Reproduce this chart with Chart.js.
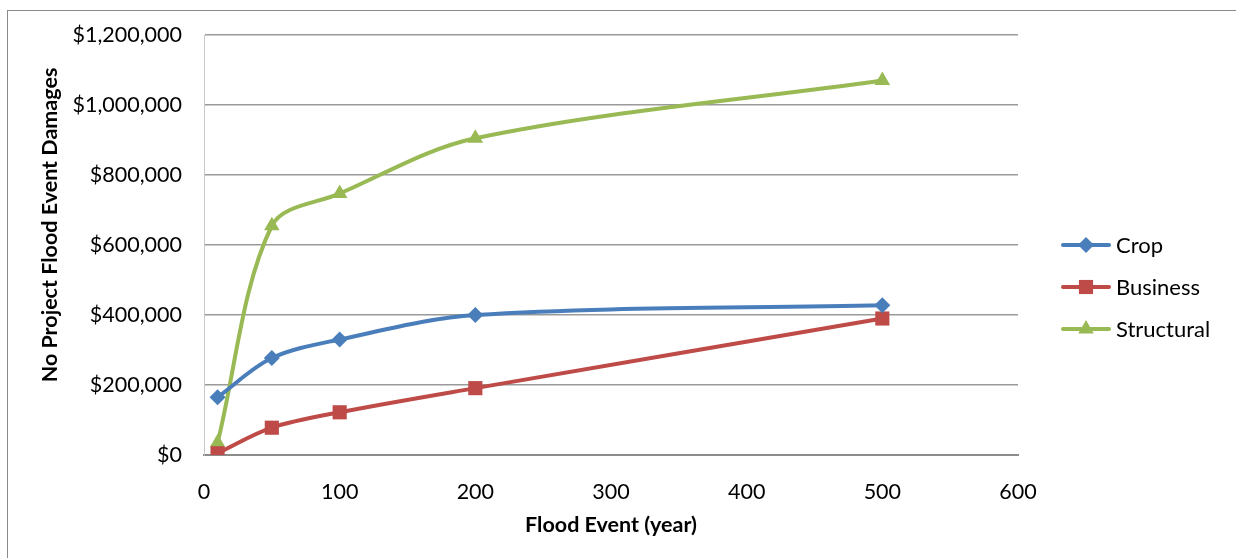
<!DOCTYPE html>
<html><head><meta charset="utf-8">
<script src="https://cdn.jsdelivr.net/npm/chart.js@4.4.0/dist/chart.umd.min.js"></script>
<style>
html,body{margin:0;padding:0;background:#fff;}
#wrap{position:relative;width:1236px;height:558px;overflow:hidden;}
#frame{position:absolute;left:7px;top:10px;width:1260px;height:580px;border:1.5px solid #8a8a8a;box-sizing:border-box}
canvas{position:absolute;left:0;top:0}
</style></head>
<body><div id="wrap"><div id="frame"></div><canvas id="c" width="1236" height="558"></canvas></div>
<script>
const floodEvents = [10, 50, 100, 200, 500];
const cropDamages = [165000, 277000, 330000, 400000, 428000];
const businessDamages = [5000, 78000, 122000, 191000, 390000];
const structuralDamages = [35000, 655000, 747000, 905000, 1070000];
const seriesNames = ['Crop', 'Business', 'Structural'];
const xTickValues = [0, 100, 200, 300, 400, 500, 600];
const yTickValues = [0, 200000, 400000, 600000, 800000, 1000000, 1200000];
const xTitle = 'Flood Event (year)';
const yTitle = 'No Project Flood Event Damages';

const FONT = 'Lato';
const colors = ['#4A7EBB', '#BE4B48', '#98B954'];
const styles = ['rectRot', 'rect', 'triangle'];
const radii = [8, 10, 9];

function pts(vals){ return floodEvents.map((x,i)=>({x:x, y:vals[i]})); }
const seriesValues = [cropDamages, businessDamages, structuralDamages];

function drawMarker(ctx, style, x, y, r){
  ctx.beginPath();
  if (style === 'rectRot'){
    ctx.moveTo(x, y-r); ctx.lineTo(x+r, y); ctx.lineTo(x, y+r); ctx.lineTo(x-r, y); ctx.closePath();
  } else if (style === 'rect'){
    const s = Math.SQRT1_2*r; ctx.rect(x-s, y-s, 2*s, 2*s);
  } else {
    const a = Math.PI*2/3;
    ctx.moveTo(x, y-r); ctx.lineTo(x+Math.sin(a)*r, y-Math.cos(a)*r); ctx.lineTo(x+Math.sin(2*a)*r, y-Math.cos(2*a)*r); ctx.closePath();
  }
  ctx.fill();
}

const extras = {
  id: 'extras',
  afterDraw(chart){
    const ctx = chart.ctx, ca = chart.chartArea;
    ctx.save();
    ctx.translate(50, 225);
    ctx.rotate(-Math.PI/2);
    ctx.font = 'bold 21.5px ' + FONT;
    ctx.fillStyle = '#000';
    ctx.textAlign = 'center'; ctx.textBaseline = 'middle';
    ctx.fillText(yTitle, 0, 0);
    ctx.restore();
    const x0 = ca.right + 45;
    chart.data.datasets.forEach((ds, i) => {
      const y = 245 + i*42;
      ctx.save();
      ctx.strokeStyle = ds.borderColor; ctx.lineWidth = 4; ctx.lineCap = 'round';
      ctx.beginPath(); ctx.moveTo(x0, y); ctx.lineTo(x0+46, y); ctx.stroke();
      ctx.fillStyle = ds.pointBackgroundColor;
      drawMarker(ctx, ds.pointStyle, x0+23, y, ds.pointRadius);
      ctx.fillStyle = '#000';
      ctx.font = '22px ' + FONT;
      ctx.textAlign = 'left'; ctx.textBaseline = 'middle';
      ctx.fillText(ds.label, x0+53, y+1);
      ctx.restore();
    });
  }
};

new Chart(document.getElementById('c'), {
  type: 'line',
  data: {
    datasets: seriesNames.map((n, i) => ({
      label: n,
      data: pts(seriesValues[i]),
      borderColor: colors[i],
      backgroundColor: colors[i],
      pointBackgroundColor: colors[i],
      pointBorderColor: colors[i],
      pointBorderWidth: 0,
      pointStyle: styles[i],
      pointRadius: radii[i],
      borderWidth: 4,
      tension: 0.33,
      fill: false
    }))
  },
  options: {
    responsive: false,
    animation: false,
    devicePixelRatio: 1,
    layout: { padding: { left: 0, top: 35, right: 218, bottom: 0 } },
    plugins: { legend: { display: false }, tooltip: { enabled: false } },
    scales: {
      x: {
        type: 'linear', min: 0, max: 600,
        afterBuildTicks(s){ s.ticks = xTickValues.map(v => ({value: v})); },
        afterFit(s){ s.height = 103; },
        grid: { display: false, drawTicks: false },
        border: { display: true, color: '#8c8c8c', width: 2 },
        ticks: { color: '#000', font: { family: FONT, size: 21.5 }, padding: 24, maxRotation: 0 },
        title: { display: true, text: xTitle, color: '#000', font: { family: FONT, size: 21.5, weight: 'bold' }, padding: { top: 0, bottom: 20 } }
      },
      y: {
        min: 0, max: 1200000,
        afterBuildTicks(s){ s.ticks = yTickValues.map(v => ({value: v})); },
        afterFit(s){ s.width = 204; },
        grid: { color: '#9a9a9a', lineWidth: 1.5, drawTicks: false },
        border: { display: true, color: '#c8c8c8', width: 1 },
        ticks: { color: '#000', font: { family: FONT, size: 21.5 }, padding: 22,
          callback: v => '$' + Number(v).toLocaleString('en-US') }
      }
    }
  },
  plugins: [extras]
});
</script>
</body></html>
